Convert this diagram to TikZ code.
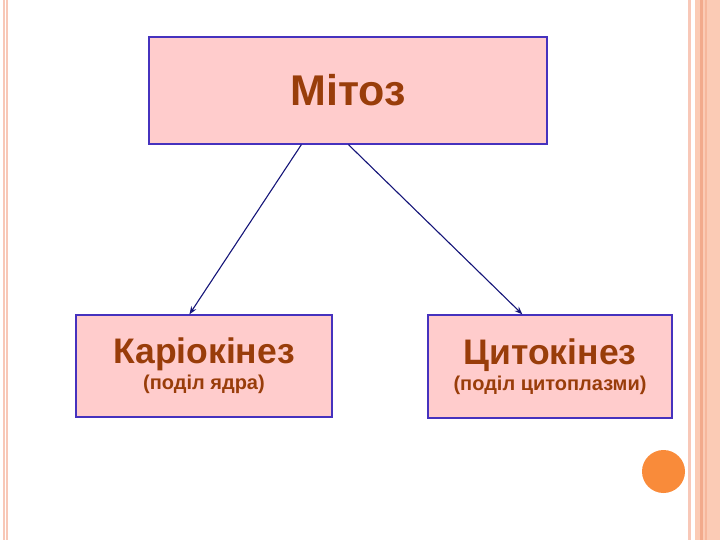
\documentclass[tikz,border=0pt]{standalone}
\usepackage{fontspec}
\setmainfont{Liberation Sans}
\usetikzlibrary{arrows.meta,calc}
\definecolor{boxfill}{RGB}{255,204,204}
\definecolor{boxline}{RGB}{70,50,190}
\definecolor{txtbrown}{RGB}{153,61,10}
\definecolor{arrowblue}{RGB}{20,20,120}
\definecolor{stripe}{RGB}{248,200,184}
\definecolor{peach}{RGB}{251,203,181}
\definecolor{peachdark}{RGB}{242,170,140}
\definecolor{dotorange}{RGB}{249,139,58}
\tikzset{
  box/.style={draw=boxline, line width=1.2pt, fill=boxfill, inner sep=0pt, text=txtbrown, font=\bfseries, align=center},
  arr/.style={draw=arrowblue, line width=1.1pt, -{Stealth[open, length=8pt, width=6pt]}}
}
\begin{document}
\begin{tikzpicture}[x=1pt,y=-1pt]
\useasboundingbox (0,0) rectangle (720,540);
% page decoration
\fill[stripe] (3,0) rectangle (4.5,540);
\fill[stripe] (6,0) rectangle (8,540);
\fill[stripe] (688,0) rectangle (691,540);
\fill[peach] (695,0) rectangle (720,540);
\fill[peachdark] (699.7,0) rectangle (702.7,540);
\fill[peachdark!60!peach] (705.3,0) rectangle (706.7,540);
\fill[dotorange] (663.5,471.5) circle (21.5);
% boxes
\node[box, minimum width=398pt, minimum height=107pt] (main) at (348,90.5)
  {\fontsize{43}{50}\selectfont Мітоз};
\node[box, minimum width=256pt, minimum height=102pt] (kar) at (204,366)
  {\fontsize{35.5}{29}\selectfont Каріокінез\\[3pt]\fontsize{20}{29}\selectfont (поділ ядра)};
\node[box, minimum width=244pt, minimum height=103pt] (cyt) at (550,366.5)
  {\fontsize{35.5}{29}\selectfont Цитокінез\\[3pt]\fontsize{20}{29}\selectfont (поділ цитоплазми)};
% connectors
\draw[arr] ($(main.south west)+(153,0)$) -- ($(kar.north west)+(114,0)$);
\draw[arr] ($(main.south west)+(200,0)$) -- ($(cyt.north west)+(95,0)$);
\end{tikzpicture}
\end{document}
